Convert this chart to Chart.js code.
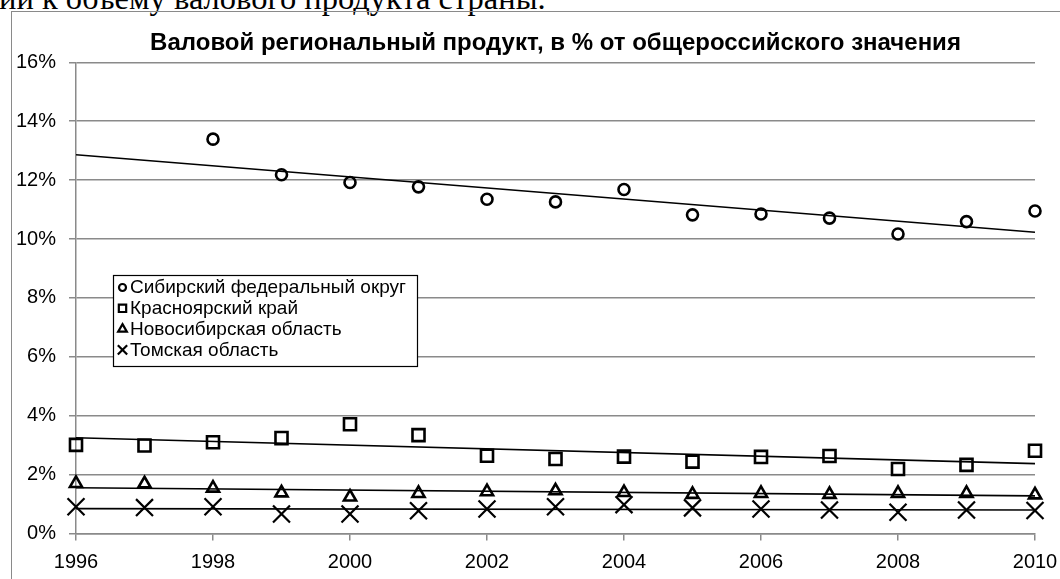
<!DOCTYPE html>
<html lang="ru">
<head>
<meta charset="utf-8">
<title>Валовой региональный продукт</title>
<script src="https://cdn.jsdelivr.net/npm/chart.js@4.4.1/dist/chart.umd.min.js"></script>
<style>
  html, body {
    margin: 0;
    padding: 0;
    width: 1060px;
    height: 579px;
    overflow: hidden;
    background: #fff;
  }
  /* line of the surrounding document, cut by the top edge */
  #doc-line {
    position: absolute;
    left: -1px;
    top: -18.5px;
    font-family: "Liberation Serif", "Times New Roman", serif;
    font-size: 32.5px;
    line-height: 32.5px;
    white-space: nowrap;
    color: #000;
  }
  #frame {
    position: absolute;
    left: 11px;
    top: 11px;
    width: 1200px;
    height: 700px;
    border: 1.5px solid #8a8a8a;
  }
  #chart-canvas {
    position: absolute;
    left: 0;
    top: 0;
  }
</style>
</head>
<body>
<div id="doc-line">ии к объему валового продукта страны.</div>
<div id="frame"></div>
<canvas id="chart-canvas" width="1060" height="579"></canvas>

<script>
/* global Chart */

// ---- data (% of the all-Russian value) ----
const years = [1996, 1997, 1998, 1999, 2000, 2001, 2002, 2003, 2004, 2005, 2006, 2007, 2008, 2009, 2010];
const siberianDistrict = [null, null, 13.39, 12.18, 11.92, 11.77, 11.35, 11.26, 11.68, 10.82, 10.85, 10.71, 10.17, 10.59, 10.95];
const krasnoyarskKrai = [3.01, 2.99, 3.10, 3.24, 3.71, 3.34, 2.64, 2.53, 2.61, 2.44, 2.60, 2.63, 2.19, 2.33, 2.81];
const novosibirskOblast = [1.70, 1.69, 1.54, 1.38, 1.24, 1.36, 1.42, 1.45, 1.39, 1.33, 1.36, 1.33, 1.36, 1.36, 1.31];
const tomskOblast = [0.91, 0.88, 0.91, 0.66, 0.66, 0.77, 0.83, 0.91, 0.98, 0.87, 0.83, 0.80, 0.72, 0.80, 0.78];

const seriesNames = [
  "Сибирский федеральный округ",
  "Красноярский край",
  "Новосибирская область",
  "Томская область",
];

const chartTitle = "Валовой региональный продукт, в % от общероссийского значения";
const xTickYears = [1996, 1998, 2000, 2002, 2004, 2006, 2008, 2010];
const yTickPercents = [0, 2, 4, 6, 8, 10, 12, 14, 16];

const FONT = "Arial, 'Liberation Sans', sans-serif";
const GRID = "#8a8a8a";

// marker look for each series (same order as seriesNames)
const markerStyles = [
  { pointStyle: "circle", radius: 5.5, borderWidth: 2.6, legendRadius: 3.5 },
  { pointStyle: "rect", radius: 8.5, borderWidth: 2.6, legendRadius: 5.2 },
  { pointStyle: "triangle", radius: 7, borderWidth: 2.6, legendRadius: 5 },
  { pointStyle: "crossRot", radius: 12, borderWidth: 2.2, legendRadius: 6.6 },
];

/**
 * Excel-like linear trend line (least squares) over the non-empty points
 */
function linearTrend(values) {
  const pts = years
    .map((x, i) => ({ x: x, y: values[i] }))
    .filter((p) => p.y !== null);
  const n = pts.length;
  const mx = pts.reduce((s, p) => s + p.x, 0) / n;
  const my = pts.reduce((s, p) => s + p.y, 0) / n;
  let sxy = 0;
  let sxx = 0;
  pts.forEach((p) => {
    sxy += (p.x - mx) * (p.y - my);
    sxx += (p.x - mx) * (p.x - mx);
  });
  const slope = sxy / sxx;
  const first = years[0];
  const last = years[years.length - 1];
  return [
    { x: first, y: my + slope * (first - mx) },
    { x: last, y: my + slope * (last - mx) },
  ];
}

/**
 * Legend drawn as a framed box inside the plot, like the original
 */
const boxLegend = {
  id: "boxLegend",
  afterDraw(chart, args, opts) {
    const ctx = chart.ctx;
    ctx.save();
    ctx.fillStyle = "#fff";
    ctx.fillRect(opts.left, opts.top, opts.width, opts.height);
    ctx.strokeStyle = "#000";
    ctx.lineWidth = 1.2;
    ctx.strokeRect(opts.left, opts.top, opts.width, opts.height);

    ctx.font = opts.fontSize + "px " + FONT;
    ctx.textBaseline = "middle";
    ctx.textAlign = "left";

    seriesNames.forEach((name, i) => {
      const y = opts.firstRow + i * opts.rowStep;
      const style = markerStyles[i];
      ctx.strokeStyle = "#000";
      ctx.fillStyle = "rgba(0,0,0,0)";
      ctx.lineWidth = 2.2;
      Chart.helpers.drawPoint(
        ctx,
        { pointStyle: style.pointStyle, radius: style.legendRadius, borderWidth: 2.2, rotation: 0 },
        opts.markerX,
        y
      );
      ctx.fillStyle = "#000";
      ctx.fillText(name, opts.textX, y + 0.5);
    });
    ctx.restore();
  },
};

class RegionalProductChart {
  constructor() {
    this.canvas = document.getElementById("chart-canvas");
    this.chart = null;
    this.render();
  }

  buildDatasets() {
    const seriesValues = [siberianDistrict, krasnoyarskKrai, novosibirskOblast, tomskOblast];

    // markers first so they sit on top of the trend lines
    const markers = seriesValues.map((values, i) => ({
      type: "scatter",
      label: seriesNames[i],
      data: years
        .map((x, k) => ({ x: x, y: values[k] }))
        .filter((p) => p.y !== null),
      pointStyle: markerStyles[i].pointStyle,
      pointRadius: markerStyles[i].radius,
      pointBorderWidth: markerStyles[i].borderWidth,
      pointBorderColor: "#000",
      pointBackgroundColor: "rgba(0,0,0,0)",
      showLine: false,
      clip: false,
    }));

    const trends = seriesValues.map((values, i) => ({
      type: "line",
      label: seriesNames[i] + " (тренд)",
      data: linearTrend(values),
      borderColor: "#000",
      borderWidth: 1.6,
      pointRadius: 0,
      fill: false,
      tension: 0,
      clip: false,
    }));

    return markers.concat(trends);
  }

  render() {
    this.chart = new Chart(this.canvas.getContext("2d"), {
      type: "scatter",
      data: { datasets: this.buildDatasets() },
      plugins: [boxLegend],
      options: {
        responsive: false,
        animation: false,
        devicePixelRatio: 1,
        layout: {
          padding: { left: 12, right: 25, top: 0, bottom: 0 },
        },
        plugins: {
          legend: { display: false },
          tooltip: { enabled: false },
          title: {
            display: true,
            text: chartTitle,
            fullSize: false,
            color: "#000",
            font: { family: FONT, size: 24, weight: "bold" },
            padding: { top: 28.5, bottom: 5 },
          },
          boxLegend: {
            left: 113.5,
            top: 275.5,
            width: 304,
            height: 91,
            markerX: 122.5,
            textX: 130,
            firstRow: 287.5,
            rowStep: 20.8,
            fontSize: 19,
          },
        },
        scales: {
          x: {
            type: "linear",
            min: 1996,
            max: 2010,
            afterBuildTicks: (axis) => {
              axis.ticks = xTickYears.map((v) => ({ value: v }));
            },
            afterFit: (axis) => {
              axis.height = 45.5;
              // the plot edges are fixed by layout padding only
              axis.paddingLeft = 0;
              axis.paddingRight = 0;
            },
            grid: {
              drawOnChartArea: false,
              drawTicks: true,
              tickLength: 7,
              color: GRID,
              lineWidth: 1.5,
            },
            border: { display: true, color: GRID, width: 1.5 },
            ticks: {
              color: "#000",
              padding: 10,
              maxRotation: 0,
              font: { family: FONT, size: 20 },
              callback: (value) => String(value),
            },
          },
          y: {
            type: "linear",
            min: 0,
            max: 16,
            afterBuildTicks: (axis) => {
              axis.ticks = yTickPercents.map((v) => ({ value: v }));
            },
            afterFit: (axis) => {
              axis.width = 64;
              axis.paddingTop = 0;
              axis.paddingBottom = 0;
            },
            grid: {
              drawTicks: true,
              tickLength: 7,
              color: GRID,
              lineWidth: 1.5,
            },
            border: { display: true, color: GRID, width: 1.5 },
            ticks: {
              color: "#000",
              padding: 13,
              font: { family: FONT, size: 20 },
              callback: (value) => value + "%",
            },
          },
        },
      },
    });
  }
}

const regionalChart = new RegionalProductChart();
</script>
</body>
</html>
